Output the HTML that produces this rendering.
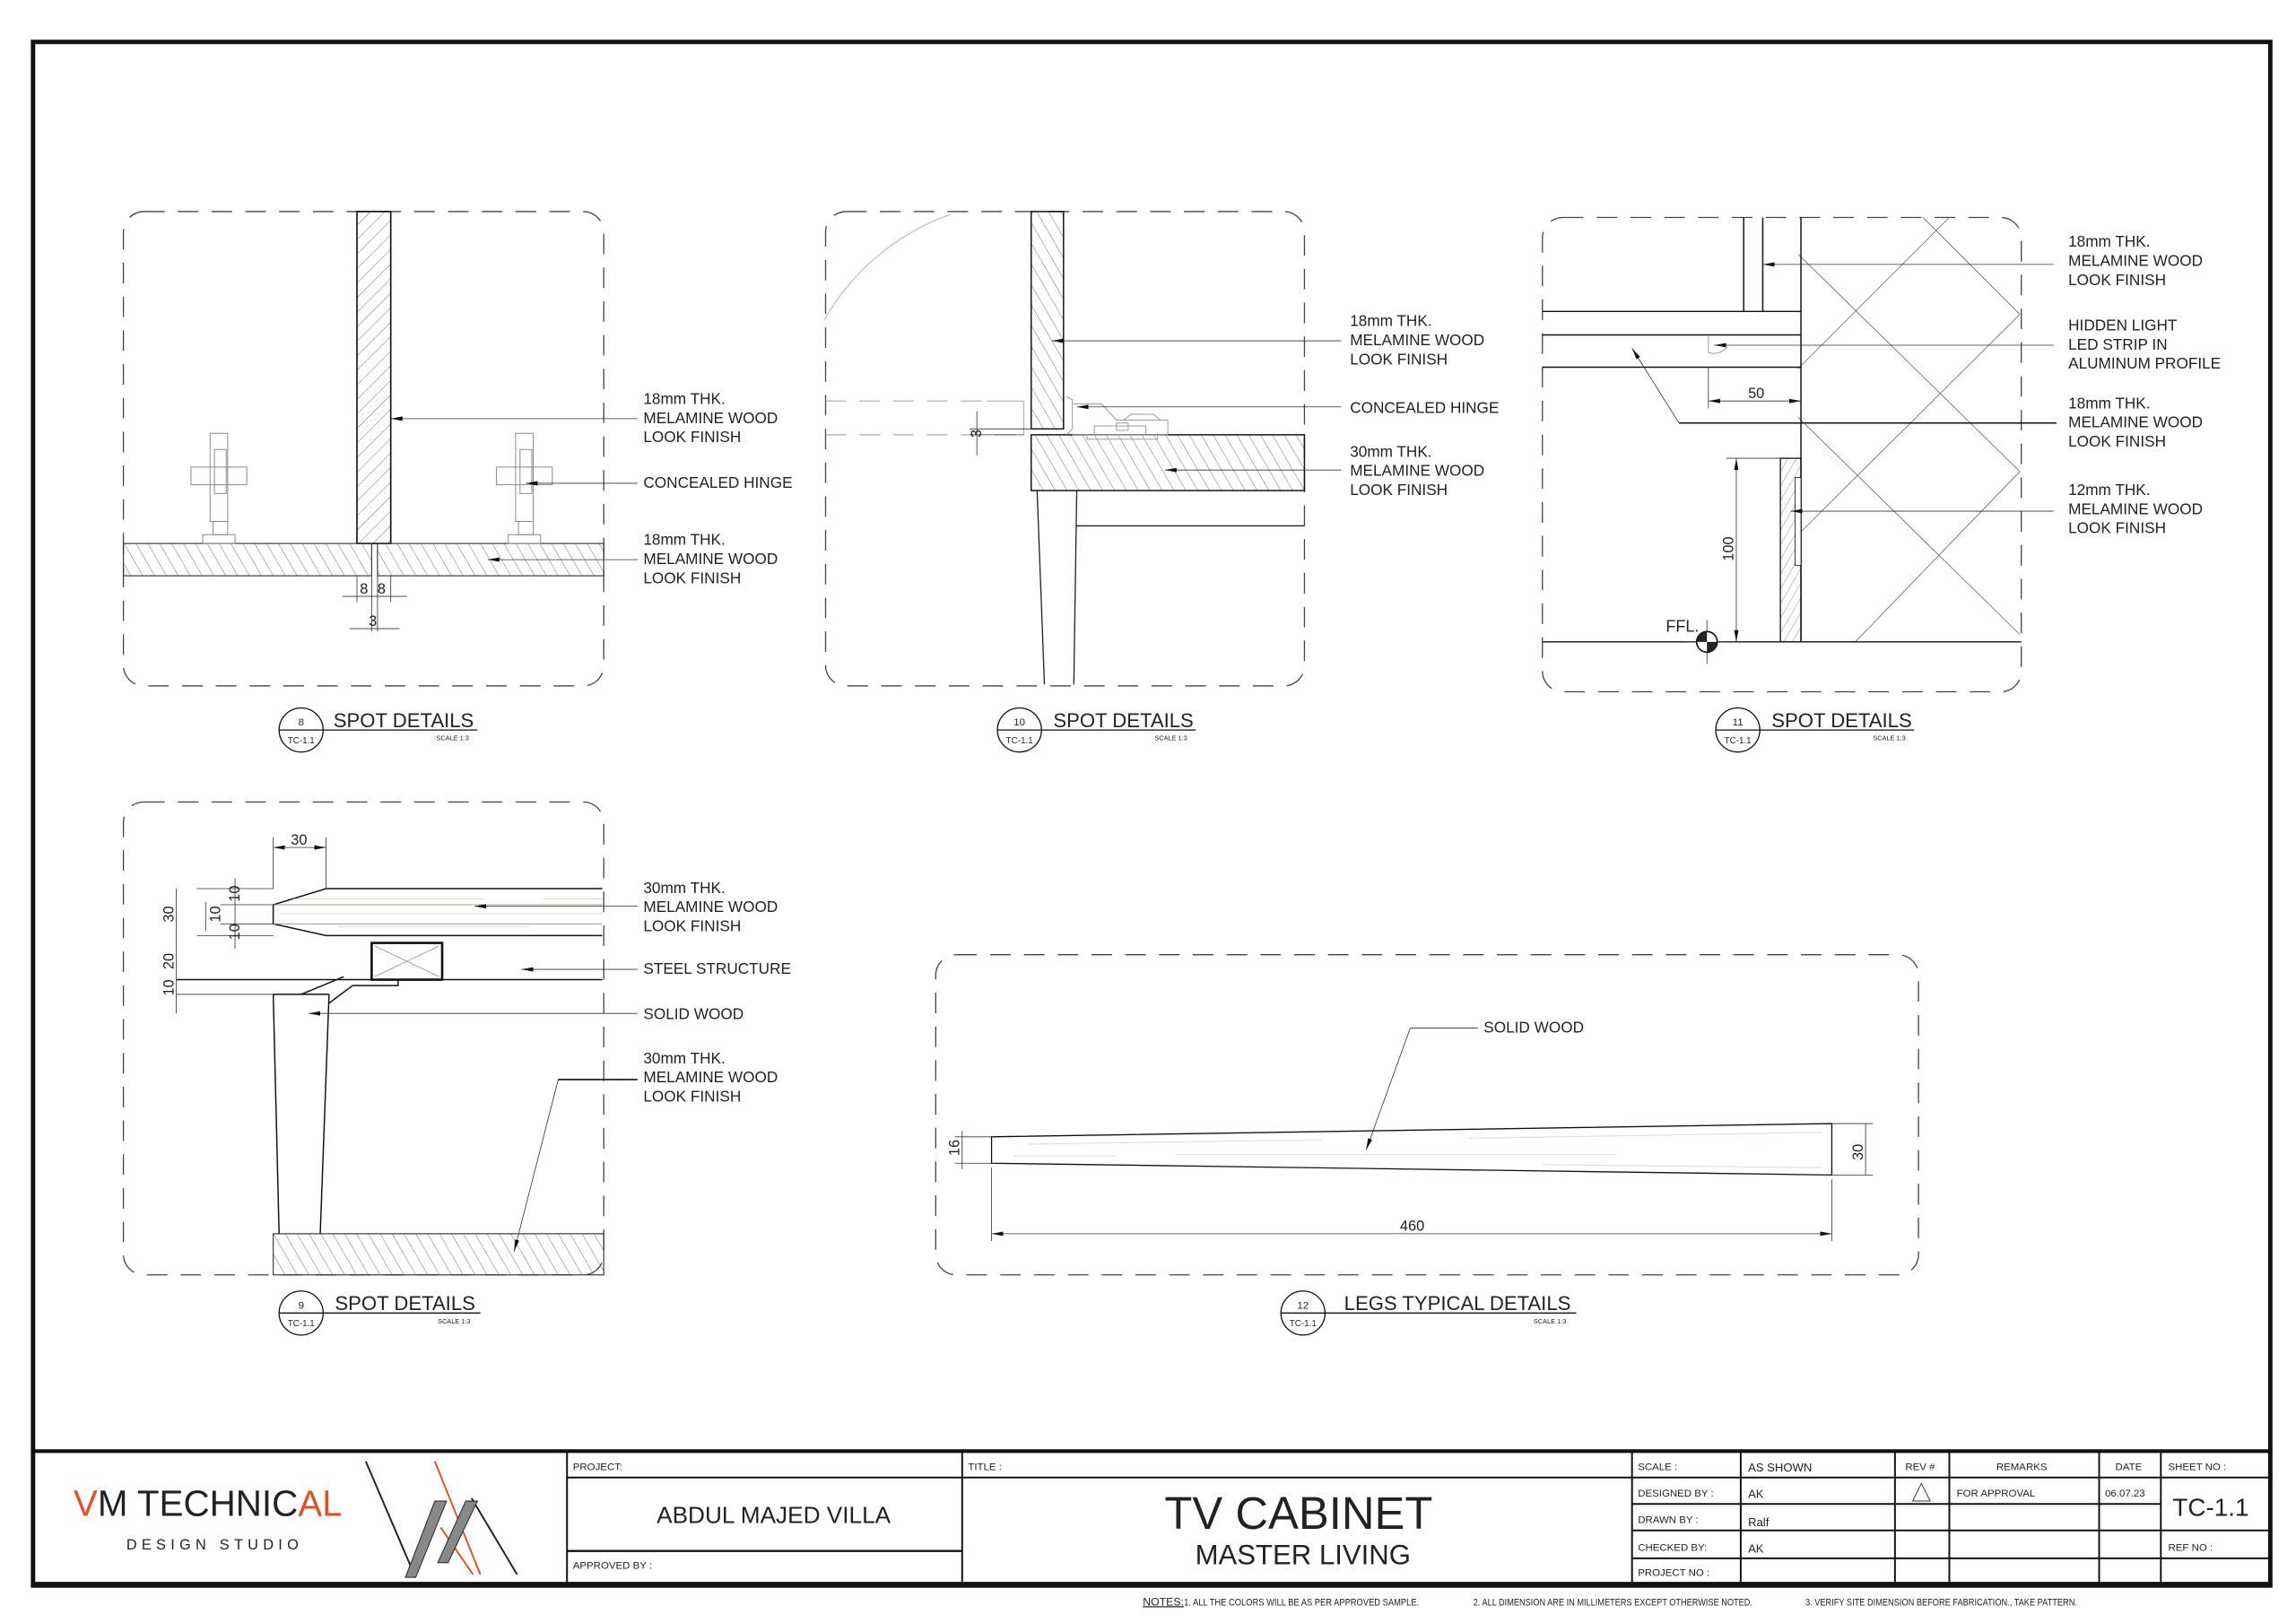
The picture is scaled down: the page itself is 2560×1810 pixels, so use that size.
<!DOCTYPE html>
<html><head><meta charset="utf-8"><style>
html,body{margin:0;padding:0;background:#fff}
svg{display:block}
text{font-family:"Liberation Sans",sans-serif;fill:#222}
</style></head><body>
<svg width="2560" height="1810" viewBox="0 0 1563 1105" xmlns="http://www.w3.org/2000/svg">
<defs>
<pattern id="hf" patternUnits="userSpaceOnUse" width="7" height="7" patternTransform="rotate(45)"><line x1="0" y1="0" x2="0" y2="7" stroke="#555" stroke-width="0.5"/></pattern>
<pattern id="hb" patternUnits="userSpaceOnUse" width="7" height="7" patternTransform="rotate(-30)"><line x1="0" y1="0" x2="0" y2="7" stroke="#555" stroke-width="0.5"/></pattern>
<pattern id="hs" patternUnits="userSpaceOnUse" width="5" height="5" patternTransform="rotate(30)"><line x1="0" y1="0" x2="0" y2="5" stroke="#555" stroke-width="0.4"/></pattern>
<marker id="ar" markerWidth="8" markerHeight="6" refX="0" refY="3" orient="auto" markerUnits="userSpaceOnUse"><path d="M0,3 L8,1.5 L8,4.5 Z" fill="#111"/></marker>
<marker id="da" markerWidth="8" markerHeight="6" refX="8" refY="3" orient="auto" markerUnits="userSpaceOnUse"><path d="M8,3 L0,1.5 L0,4.5 Z" fill="#111"/></marker>
<clipPath id="c11"><rect x="1224" y="148" width="151" height="289"/></clipPath>
</defs>
<rect width="1563" height="1105" fill="#fff"/>
<!-- frame -->
<rect x="22.5" y="28.5" width="1523" height="1051" fill="none" stroke="#111" stroke-width="3"/>
<g fill="none" stroke="#444" stroke-width="0.8" stroke-dasharray="14,9">
<rect x="84" y="144" width="327" height="323" rx="14"/>
<rect x="562" y="144" width="326" height="323" rx="14"/>
<rect x="1050" y="148" width="326" height="323" rx="14"/>
<rect x="84" y="546" width="327" height="322" rx="14"/>
<rect x="637" y="650" width="669" height="218" rx="14"/>
</g>
<g font-size="10.5">
<!-- DETAIL 8 -->
<rect x="243" y="144" width="23" height="226" fill="url(#hf)" stroke="#111" stroke-width="1"/>
<rect x="84" y="370" width="169" height="22" fill="url(#hb)" stroke="#333" stroke-width="0.7"/>
<rect x="257" y="370" width="154" height="22" fill="url(#hb)" stroke="#333" stroke-width="0.7"/>
<g fill="none" stroke="#888" stroke-width="0.6">
<rect x="143" y="295" width="12" height="60"/><rect x="130" y="318" width="38" height="12"/><rect x="146" y="306" width="8" height="30"/><rect x="138" y="364" width="22" height="6"/><rect x="145" y="355" width="10" height="9"/>
<rect x="351" y="295" width="12" height="60"/><rect x="338" y="318" width="38" height="12"/><rect x="354" y="306" width="8" height="30"/><rect x="346" y="364" width="22" height="6"/><rect x="353" y="355" width="10" height="9"/>
</g>
<g stroke="#333" stroke-width="0.5" fill="none">
<line x1="434" y1="285" x2="266" y2="285" marker-end="url(#da)"/>
<line x1="434" y1="329" x2="358" y2="329" marker-end="url(#da)"/>
<line x1="434" y1="381" x2="332" y2="381" marker-end="url(#da)"/>
<line x1="253" y1="392" x2="253" y2="430"/><line x1="257" y1="392" x2="257" y2="430"/><line x1="243" y1="392" x2="243" y2="410"/><line x1="266" y1="392" x2="266" y2="410"/>
<line x1="233" y1="406" x2="277" y2="406"/><line x1="238" y1="428" x2="272" y2="428"/>
</g>
<text x="245" y="404" font-size="10">8</text><text x="257" y="404" font-size="10">8</text><text x="251" y="426" font-size="10">3</text>
<text x="438" y="275">18mm THK.</text><text x="438" y="288">MELAMINE WOOD</text><text x="438" y="301">LOOK FINISH</text>
<text x="438" y="332">CONCEALED HINGE</text>
<text x="438" y="371">18mm THK.</text><text x="438" y="384">MELAMINE WOOD</text><text x="438" y="397">LOOK FINISH</text>

<!-- DETAIL 10 -->
<path d="M561,218 A160,160 0 0 1 647,146" fill="none" stroke="#bbb" stroke-width="0.7"/>
<g stroke="#aaa" stroke-width="0.7" stroke-dasharray="14,9"><line x1="562" y1="273" x2="672" y2="273"/><line x1="562" y1="296" x2="697" y2="296"/></g>
<polyline points="672,273 697,273 697,296" fill="none" stroke="#aaa" stroke-width="0.6"/>
<rect x="702" y="144" width="22" height="148" fill="url(#hb)" stroke="#111" stroke-width="0.9"/>
<rect x="702" y="296" width="186" height="38" fill="url(#hb)" stroke="#111" stroke-width="0.9"/>
<g stroke="#222" stroke-width="0.8" fill="none">
<line x1="706" y1="334" x2="711" y2="466"/><line x1="733" y1="334" x2="731" y2="466"/><line x1="733" y1="358" x2="888" y2="358"/>
</g>
<g stroke="#999" stroke-width="0.6" fill="none">
<path d="M726,270 L730,272 L730,292 L726,296"/><path d="M730,275 L750,275 L760,286 L795,286 L795,296 L730,296"/><rect x="745" y="290" width="35" height="6"/><rect x="760" y="288" width="8" height="5"/><rect x="740" y="296" width="48" height="3"/><path d="M765,286 L770,282 L785,282 L790,286"/>
</g>
<g stroke="#333" stroke-width="0.5" fill="none">
<line x1="913" y1="232" x2="716" y2="232" marker-end="url(#da)"/>
<line x1="913" y1="277" x2="733" y2="277" marker-end="url(#da)"/>
<line x1="913" y1="320" x2="793" y2="320" marker-end="url(#da)"/>
<line x1="665" y1="280" x2="665" y2="310"/><line x1="660" y1="292" x2="702" y2="292"/><line x1="660" y1="296" x2="697" y2="296"/>
</g>
<text transform="translate(668,298) rotate(-90)" font-size="10">3</text>
<text x="919" y="222">18mm THK.</text><text x="919" y="235">MELAMINE WOOD</text><text x="919" y="248">LOOK FINISH</text>
<text x="919" y="281">CONCEALED HINGE</text>
<text x="919" y="311">30mm THK.</text><text x="919" y="324">MELAMINE WOOD</text><text x="919" y="337">LOOK FINISH</text>

<!-- DETAIL 11 -->
<g clip-path="url(#c11)" stroke="#666" stroke-width="0.5">
<line x1="1224" y1="173" x2="1375" y2="321"/><line x1="1224" y1="251" x2="1327" y2="148"/><line x1="1309" y1="148" x2="1375" y2="214"/>
<line x1="1224" y1="284" x2="1375" y2="432"/><line x1="1224" y1="364" x2="1375" y2="214"/><line x1="1263" y1="437" x2="1375" y2="321"/><line x1="1224" y1="437" x2="1224" y2="437"/>
</g>
<g stroke="#111" stroke-width="0.9" fill="none">
<line x1="1187" y1="148" x2="1187" y2="212"/><line x1="1200" y1="148" x2="1200" y2="212"/><line x1="1226" y1="148" x2="1226" y2="437"/>
<line x1="1050" y1="212" x2="1226" y2="212"/><line x1="1050" y1="228" x2="1226" y2="228"/><line x1="1050" y1="250" x2="1226" y2="250"/>
<line x1="1050" y1="437" x2="1376" y2="437"/>
<line x1="1143" y1="288" x2="1400" y2="288"/>
</g>
<rect x="1212" y="312" width="14" height="125" fill="url(#hs)" stroke="#111" stroke-width="0.8"/>
<rect x="1222" y="325" width="4" height="60" fill="#fff" stroke="#111" stroke-width="0.5"/>
<path d="M1163,229 L1163,240 A12,12 0 0 0 1176,236" fill="none" stroke="#999" stroke-width="0.6"/>
<g stroke="#333" stroke-width="0.5" fill="none">
<line x1="1398" y1="180" x2="1200" y2="180" marker-end="url(#da)"/>
<line x1="1398" y1="235" x2="1167" y2="235" marker-end="url(#da)"/>
<line x1="1143" y1="288" x2="1111" y2="237" marker-end="url(#da)"/>
<line x1="1398" y1="348" x2="1219" y2="348" marker-end="url(#da)"/>
<line x1="1163" y1="250" x2="1163" y2="278"/>
<line x1="1163" y1="273" x2="1226" y2="273" marker-start="url(#ar)" marker-end="url(#da)"/>
<line x1="1175" y1="312" x2="1212" y2="312"/>
<line x1="1182" y1="312" x2="1182" y2="437" marker-start="url(#ar)" marker-end="url(#da)"/>
<line x1="1162" y1="422" x2="1162" y2="452"/><line x1="1148" y1="437" x2="1176" y2="437"/>
</g>
<circle cx="1162" cy="437" r="7" fill="#fff" stroke="#111" stroke-width="1"/>
<path d="M1162,437 L1162,430 A7,7 0 0 0 1155,437 Z M1162,437 L1162,444 A7,7 0 0 0 1169,437 Z" fill="#222"/>
<text x="1134" y="430" font-size="11">FFL.</text>
<text x="1190" y="271" font-size="10">50</text>
<text transform="translate(1180,382) rotate(-90)" font-size="10">100</text>
<text x="1408" y="168">18mm THK.</text><text x="1408" y="181">MELAMINE WOOD</text><text x="1408" y="194">LOOK FINISH</text>
<text x="1408" y="225">HIDDEN LIGHT</text><text x="1408" y="238">LED STRIP IN</text><text x="1408" y="251">ALUMINUM PROFILE</text>
<text x="1408" y="278">18mm THK.</text><text x="1408" y="291">MELAMINE WOOD</text><text x="1408" y="304">LOOK FINISH</text>
<text x="1408" y="337">12mm THK.</text><text x="1408" y="350">MELAMINE WOOD</text><text x="1408" y="363">LOOK FINISH</text>

<!-- DETAIL 9 -->
<g stroke="#111" stroke-width="0.9" fill="none">
<polyline points="410,605 222,605 186,616 186,629 222,637 410,637"/>
<line x1="120" y1="667" x2="410" y2="667"/>
<line x1="186" y1="677" x2="190" y2="840"/><line x1="224" y1="677" x2="218" y2="840"/><line x1="186" y1="677" x2="224" y2="677"/>
<polyline points="205,677 234,665"/><polyline points="224,683 240,671 271,671 271,667"/>
</g>
<g stroke="#e6d8c8" stroke-width="0.6"><line x1="200" y1="612" x2="330" y2="612"/><line x1="190" y1="622" x2="410" y2="622"/><line x1="230" y1="631" x2="360" y2="631"/><line x1="370" y1="612" x2="410" y2="612"/></g>
<g stroke="#888" stroke-width="0.5"><line x1="186" y1="616" x2="410" y2="616"/><line x1="186" y1="629" x2="410" y2="629"/></g>
<rect x="253" y="642" width="48" height="25" fill="#fff" stroke="#111" stroke-width="1.6"/>
<g stroke="#666" stroke-width="0.4"><line x1="255" y1="644" x2="299" y2="665"/><line x1="299" y1="644" x2="255" y2="665"/></g>
<rect x="186" y="840" width="225" height="28" fill="url(#hb)" stroke="#333" stroke-width="0.7"/>
<g stroke="#333" stroke-width="0.5" fill="none">
<line x1="134" y1="605" x2="186" y2="605"/><line x1="134" y1="637" x2="186" y2="637"/><line x1="150" y1="616" x2="186" y2="616"/><line x1="150" y1="629" x2="186" y2="629"/><line x1="120" y1="677" x2="186" y2="677"/>
<line x1="120" y1="605" x2="120" y2="690"/><line x1="160" y1="598" x2="160" y2="646"/><line x1="140" y1="614" x2="140" y2="634"/>
<line x1="186" y1="570" x2="186" y2="605"/><line x1="222" y1="570" x2="222" y2="605"/><line x1="186" y1="577" x2="222" y2="577" marker-start="url(#ar)" marker-end="url(#da)"/>
<line x1="434" y1="617" x2="323" y2="617" marker-end="url(#da)"/>
<line x1="434" y1="660" x2="355" y2="660" marker-end="url(#da)"/>
<line x1="434" y1="690" x2="210" y2="690" marker-end="url(#da)"/>
<line x1="380" y1="735" x2="350" y2="852" marker-end="url(#da)"/>
</g>
<line x1="380" y1="735" x2="434" y2="735" stroke="#111" stroke-width="1"/>
<text x="198" y="575" font-size="10">30</text>
<g font-size="10"><text transform="translate(118,628) rotate(-90)">30</text><text transform="translate(118,660) rotate(-90)">20</text><text transform="translate(118,678) rotate(-90)">10</text>
<text transform="translate(163,614) rotate(-90)">10</text><text transform="translate(150,628) rotate(-90)">10</text><text transform="translate(163,640) rotate(-90)">10</text></g>
<text x="438" y="608">30mm THK.</text><text x="438" y="621">MELAMINE WOOD</text><text x="438" y="634">LOOK FINISH</text>
<text x="438" y="663">STEEL STRUCTURE</text>
<text x="438" y="694">SOLID WOOD</text>
<text x="438" y="724">30mm THK.</text><text x="438" y="737">MELAMINE WOOD</text><text x="438" y="750">LOOK FINISH</text>

<!-- DETAIL 12 -->
<polygon points="675,774 1247,765 1247,800 675,792" fill="#fff" stroke="#111" stroke-width="0.8"/>
<g stroke="#e6d8c8" stroke-width="0.6"><line x1="700" y1="779" x2="900" y2="776"/><line x1="800" y1="786" x2="1100" y2="786"/><line x1="1000" y1="775" x2="1240" y2="771"/><line x1="1050" y1="793" x2="1240" y2="795"/><line x1="690" y1="787" x2="760" y2="787"/></g>
<g stroke="#333" stroke-width="0.5" fill="none">
<polyline points="1006,700 960,700"/><line x1="960" y1="700" x2="930" y2="783" marker-end="url(#da)"/>
<line x1="675" y1="795" x2="675" y2="845"/><line x1="1247" y1="803" x2="1247" y2="845"/>
<line x1="675" y1="840" x2="1247" y2="840" marker-start="url(#ar)" marker-end="url(#da)"/>
<line x1="650" y1="774" x2="675" y2="774"/><line x1="650" y1="792" x2="675" y2="792"/><line x1="655" y1="770" x2="655" y2="796"/>
<line x1="1247" y1="765" x2="1275" y2="765"/><line x1="1247" y1="800" x2="1275" y2="800"/><line x1="1270" y1="765" x2="1270" y2="800"/>
</g>
<text x="1010" y="703">SOLID WOOD</text>
<text x="953" y="838" font-size="10">460</text>
<text transform="translate(653,787) rotate(-90)" font-size="10">16</text>
<text transform="translate(1268,790) rotate(-90)" font-size="10">30</text>
</g>

<!-- TITLE BUBBLES -->
<g>
<g transform="translate(205,497)"><circle r="15" fill="none" stroke="#111" stroke-width="0.8"/><line x1="-15" y1="0" x2="120" y2="0" stroke="#111" stroke-width="0.8"/><text x="0" y="-3" font-size="7" text-anchor="middle">8</text><text x="0" y="9" font-size="6" text-anchor="middle">TC-1.1</text><text x="22" y="-2" font-size="13.5">SPOT DETAILS</text><text x="92" y="7" font-size="4.5" fill="#666">SCALE 1:3</text></g>
<g transform="translate(694,497)"><circle r="15" fill="none" stroke="#111" stroke-width="0.8"/><line x1="-15" y1="0" x2="120" y2="0" stroke="#111" stroke-width="0.8"/><text x="0" y="-3" font-size="7" text-anchor="middle">10</text><text x="0" y="9" font-size="6" text-anchor="middle">TC-1.1</text><text x="23" y="-2" font-size="13.5">SPOT DETAILS</text><text x="92" y="7" font-size="4.5" fill="#666">SCALE 1:3</text></g>
<g transform="translate(1183,497)"><circle r="15" fill="none" stroke="#111" stroke-width="0.8"/><line x1="-15" y1="0" x2="120" y2="0" stroke="#111" stroke-width="0.8"/><text x="0" y="-3" font-size="7" text-anchor="middle">11</text><text x="0" y="9" font-size="6" text-anchor="middle">TC-1.1</text><text x="23" y="-2" font-size="13.5">SPOT DETAILS</text><text x="92" y="7" font-size="4.5" fill="#666">SCALE 1:3</text></g>
<g transform="translate(205,894)"><circle r="15" fill="none" stroke="#111" stroke-width="0.8"/><line x1="-15" y1="0" x2="122" y2="0" stroke="#111" stroke-width="0.8"/><text x="0" y="-3" font-size="7" text-anchor="middle">9</text><text x="0" y="9" font-size="6" text-anchor="middle">TC-1.1</text><text x="23" y="-2" font-size="13.5">SPOT DETAILS</text><text x="93" y="7" font-size="4.5" fill="#666">SCALE 1:3</text></g>
<g transform="translate(887,894)"><circle r="15" fill="none" stroke="#111" stroke-width="0.8"/><line x1="-15" y1="0" x2="186" y2="0" stroke="#111" stroke-width="0.8"/><text x="0" y="-3" font-size="7" text-anchor="middle">12</text><text x="0" y="9" font-size="6" text-anchor="middle">TC-1.1</text><text x="28" y="-2" font-size="13.5">LEGS TYPICAL DETAILS</text><text x="157" y="7" font-size="4.5" fill="#666">SCALE 1:3</text></g>
</g>

<!-- TITLE BLOCK -->
<g stroke="#111" fill="none">
<line x1="22" y1="988" x2="1546" y2="988" stroke-width="2.5"/>
<line x1="22" y1="1079" x2="1546" y2="1079" stroke-width="4"/>
<g stroke-width="1.2">
<line x1="386" y1="988" x2="386" y2="1079"/><line x1="655" y1="988" x2="655" y2="1079"/><line x1="1111" y1="988" x2="1111" y2="1079"/>
<line x1="1185" y1="988" x2="1185" y2="1079"/><line x1="1290" y1="988" x2="1290" y2="1079"/><line x1="1327" y1="988" x2="1327" y2="1079"/>
<line x1="1429" y1="988" x2="1429" y2="1079"/><line x1="1471" y1="988" x2="1471" y2="1079"/>
<line x1="386" y1="1006" x2="1546" y2="1006"/>
<line x1="386" y1="1056" x2="655" y2="1056" stroke-width="1.5"/>
<line x1="1111" y1="1024" x2="1471" y2="1024"/><line x1="1111" y1="1042" x2="1546" y2="1042"/><line x1="1111" y1="1061" x2="1546" y2="1061"/>
</g>
</g>
<g font-size="7">
<text x="390" y="1001">PROJECT:</text><text x="390" y="1068">APPROVED BY :</text>
<text x="659" y="1001">TITLE :</text>
<text x="1115" y="1001">SCALE :</text><text x="1190" y="1002" font-size="8">AS SHOWN</text>
<text x="1115" y="1019">DESIGNED BY :</text><text x="1190" y="1020" font-size="8">AK</text>
<text x="1115" y="1037">DRAWN BY :</text><text x="1190" y="1039" font-size="8">Ralf</text>
<text x="1115" y="1056">CHECKED BY:</text><text x="1190" y="1057" font-size="8">AK</text>
<text x="1115" y="1073">PROJECT NO :</text>
<text x="1297" y="1001">REV #</text><text x="1359" y="1001">REMARKS</text><text x="1440" y="1001">DATE</text><text x="1476" y="1001">SHEET NO :</text>
<text x="1332" y="1019">FOR APPROVAL</text><text x="1433" y="1019">06.07.23</text>
<text x="1476" y="1056">REF NO :</text>
</g>
<path d="M1308,1010 L1314,1022 L1302,1022 Z" fill="none" stroke="#333" stroke-width="0.6"/>
<text x="447" y="1037" font-size="16">ABDUL MAJED VILLA</text>
<text x="884" y="1041" font-size="31" text-anchor="middle">TV CABINET</text>
<text x="887" y="1065" font-size="19" text-anchor="middle">MASTER LIVING</text>
<text x="1479" y="1032" font-size="17">TC-1.1</text>
<!-- logo -->
<text x="50" y="1032" font-size="25" fill="#333" textLength="183" lengthAdjust="spacingAndGlyphs"><tspan fill="#e0522a">V</tspan>M TECHNIC<tspan fill="#e0522a">AL</tspan></text>
<text x="86" y="1055" font-size="10" fill="#777" letter-spacing="3.2">DESIGN STUDIO</text>
<g stroke-width="1.2">
<line x1="249" y1="995" x2="282" y2="1072" stroke="#222"/>
<line x1="296" y1="995" x2="327" y2="1072" stroke="#e0522a"/>
<line x1="321" y1="1020" x2="352" y2="1072" stroke="#222"/>
<line x1="300" y1="1040" x2="322" y2="1072" stroke="#e0522a"/>
</g>
<polygon points="296,1022 304,1022 283,1074 276,1074" fill="#888" stroke="#222" stroke-width="0.6"/>
<polygon points="317,1022 325,1022 305,1064 298,1064" fill="#888" stroke="#222" stroke-width="0.6"/>
<!-- notes -->
<g font-size="6.5" fill="#333">
<text x="778" y="1093" text-decoration="underline" font-size="7.5">NOTES:</text>
<text x="806" y="1093" textLength="160" lengthAdjust="spacingAndGlyphs">1. ALL THE COLORS WILL BE AS PER APPROVED SAMPLE.</text>
<text x="1003" y="1093" textLength="190" lengthAdjust="spacingAndGlyphs">2. ALL DIMENSION ARE IN MILLIMETERS EXCEPT OTHERWISE NOTED.</text>
<text x="1229" y="1093" textLength="185" lengthAdjust="spacingAndGlyphs">3. VERIFY SITE DIMENSION BEFORE FABRICATION., TAKE PATTERN.</text>
</g>
</svg>
</body></html>
